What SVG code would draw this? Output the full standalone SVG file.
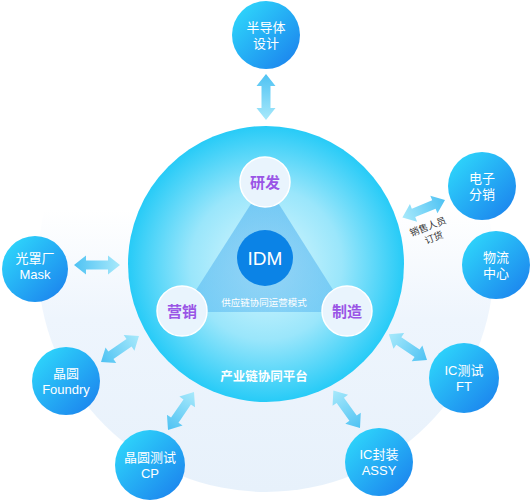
<svg xmlns="http://www.w3.org/2000/svg" width="531" height="500" viewBox="0 0 531 500">
<defs>
<linearGradient id="pale" x1="0" y1="0" x2="0" y2="1">
<stop offset="0.38" stop-color="#ffffff"/>
<stop offset="0.62" stop-color="#eef5fd"/>
<stop offset="1" stop-color="#e7f1fb"/>
</linearGradient>
<radialGradient id="main" cx="0.5" cy="0.5" r="0.5">
<stop offset="0" stop-color="#dcf8fe"/>
<stop offset="0.55" stop-color="#9ae6fb"/>
<stop offset="1" stop-color="#27cbf7"/>
</radialGradient>
<linearGradient id="sat" x1="0.1" y1="0.1" x2="0.9" y2="0.9">
<stop offset="0" stop-color="#2ed5fb"/>
<stop offset="1" stop-color="#1c86ee"/>
</linearGradient>
<linearGradient id="arr" x1="0" y1="0" x2="1" y2="0">
<stop offset="0" stop-color="#4ec2f3"/>
<stop offset="1" stop-color="#a8e9fb"/>
</linearGradient>
<linearGradient id="tri" x1="0" y1="0" x2="0" y2="1">
<stop offset="0" stop-color="#4aaeee" stop-opacity="0.55"/>
<stop offset="1" stop-color="#4aaeee" stop-opacity="0.45"/>
</linearGradient>
<path id="dbl" d="M0,0 L12,-9.5 L12,-4.5 L34,-4.5 L34,-9.5 L46,0 L34,9.5 L34,4.5 L12,4.5 L12,9.5 Z"/>
</defs>
<style>
.sat{fill:url(#sat)}
.st{fill:#ffffff;font-family:"Liberation Sans","Noto Sans CJK SC",sans-serif;font-size:13px;text-anchor:middle}
.inner{fill:#e9f4fd;stroke:#ffffff;stroke-width:1.5}
.it{fill:#9a55e6;font-family:"Noto Sans CJK SC",sans-serif;font-size:15px;font-weight:bold;text-anchor:middle}
.arrow{fill:url(#arr)}
</style>
<circle cx="266" cy="264" r="228" fill="url(#pale)"/>

<g id="connectors">
<use href="#dbl" class="arrow" transform="translate(266,74) rotate(90)"/>
<use href="#dbl" class="arrow" transform="translate(74,265)"/>
<use href="#dbl" class="arrow" transform="translate(101,362) rotate(-34.4)"/>
<use href="#dbl" class="arrow" transform="translate(168,430) rotate(-55.6)"/>
<use href="#dbl" class="arrow" transform="translate(360,428) rotate(-125.4)"/>
<use href="#dbl" class="arrow" transform="translate(427,360) rotate(-146)"/>
<use href="#dbl" class="arrow" transform="translate(445,200) rotate(157.8)"/>
<g font-family="Noto Sans CJK SC, sans-serif" font-size="9.5" fill="#333333" text-anchor="middle">
<text x="428" y="230" transform="rotate(-21 428 227)">销售人员</text>
<text x="434" y="241" transform="rotate(-21 434 238)">订货</text>
</g>
</g>

<g id="platform">
<circle cx="266" cy="264" r="138" fill="url(#main)"/>
<polygon points="265,182 182,312 347,312" fill="url(#tri)"/>
<text x="264" y="306" fill="#ffffff" font-family="Noto Sans CJK SC, sans-serif" font-size="9.5" text-anchor="middle">供应链协同运营模式</text>
<text x="264" y="381" fill="#ffffff" font-family="Noto Sans CJK SC, sans-serif" font-size="12.5" font-weight="bold" text-anchor="middle">产业链协同平台</text>
</g>

<g id="rd"><circle class="inner" cx="265" cy="182" r="25"/><text class="it" x="265" y="187.5">研发</text></g>
<g id="mkt"><circle class="inner" cx="182" cy="311" r="25"/><text class="it" x="182" y="316.5">营销</text></g>
<g id="mfg"><circle class="inner" cx="347" cy="311" r="25"/><text class="it" x="347" y="316.5">制造</text></g>
<g id="idm"><circle cx="265" cy="258" r="28" fill="#0b83e6"/><text x="265" y="265" fill="#ffffff" font-family="Liberation Sans, sans-serif" font-size="19" text-anchor="middle">IDM</text></g>

<g id="design"><circle class="sat" cx="266" cy="35" r="34"/><text class="st" x="266" y="32">半导体</text><text class="st" x="266" y="48">设计</text></g>
<g id="dist"><circle class="sat" cx="482" cy="186" r="34"/><text class="st" x="482" y="183">电子</text><text class="st" x="482" y="199">分销</text></g>
<g id="logi"><circle class="sat" cx="496" cy="265" r="34"/><text class="st" x="496" y="262">物流</text><text class="st" x="496" y="278">中心</text></g>
<g id="mask"><circle class="sat" cx="35" cy="269" r="33"/><text class="st" x="35" y="263">光罩厂</text><text class="st" x="35" y="279" font-size="14">Mask</text></g>
<g id="foundry"><circle class="sat" cx="66" cy="381" r="34"/><text class="st" x="66" y="378">晶圆</text><text class="st" x="66" y="394" font-size="14">Foundry</text></g>
<g id="cp"><circle class="sat" cx="150" cy="465" r="35"/><text class="st" x="150" y="462">晶圆测试</text><text class="st" x="150" y="478" font-size="14">CP</text></g>
<g id="assy"><circle class="sat" cx="379" cy="462" r="34"/><text class="st" x="379" y="459">IC封装</text><text class="st" x="379" y="475" font-size="14">ASSY</text></g>
<g id="ft"><circle class="sat" cx="464" cy="378" r="35"/><text class="st" x="464" y="375">IC测试</text><text class="st" x="464" y="391" font-size="14">FT</text></g>
</svg>
